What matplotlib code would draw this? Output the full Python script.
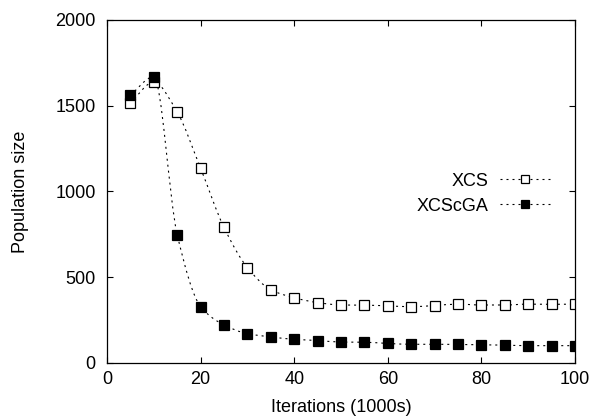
import matplotlib
matplotlib.use('Agg')
import matplotlib.pyplot as plt
from matplotlib.path import Path
from matplotlib.patches import PathPatch
from matplotlib.lines import Line2D

# population size sampled every 5000 iterations
iterations = [5, 10, 15, 20, 25, 30, 35, 40, 45, 50, 55, 60, 65, 70, 75, 80, 85, 90, 95, 100]
xcs_pop = [1515, 1637, 1462, 1135, 790, 556, 427, 380, 352, 338, 337, 333, 328, 335,
           343, 338, 338, 343, 342, 343]
xcscga_pop = [1561, 1668, 748, 329, 222, 171, 152, 138, 131, 122, 121, 114, 109, 109,
              108, 106, 104, 101, 101, 101]

plt.rcParams['font.family'] = ['Liberation Sans', 'DejaVu Sans']

dash = (0, (1.8, 3.6))


def smooth_path(xs, ys):
    """Cubic Bezier path through every point, monotone (PCHIP-style) tangents."""
    n = len(xs)
    h = [xs[i + 1] - xs[i] for i in range(n - 1)]
    d = [(ys[i + 1] - ys[i]) / h[i] for i in range(n - 1)]
    m = [d[0]] + [0.0] * (n - 2) + [d[-1]]
    for i in range(1, n - 1):
        if d[i - 1] * d[i] > 0:
            m[i] = 2 * d[i - 1] * d[i] / (d[i - 1] + d[i])
    verts = [(xs[0], ys[0])]
    codes = [Path.MOVETO]
    for i in range(n - 1):
        verts += [(xs[i] + h[i] / 3, ys[i] + m[i] * h[i] / 3),
                  (xs[i + 1] - h[i] / 3, ys[i + 1] - m[i + 1] * h[i] / 3),
                  (xs[i + 1], ys[i + 1])]
        codes += [Path.CURVE4] * 3
    return Path(verts, codes)


fig = plt.figure(figsize=(5.91, 4.18), dpi=100)
ax = fig.add_axes([0.181, 0.1316, 0.792, 0.821])

series = [
    ('XCS', xcs_pop, 'white'),
    ('XCScGA', xcscga_pop, 'black'),
]
handles = []
for name, values, face in series:
    ax.add_patch(PathPatch(smooth_path(iterations, values), fill=False,
                           edgecolor='black', linewidth=0.8, linestyle=dash))
    ax.plot(iterations, values, linestyle='none', marker='s', markersize=6.8,
            markerfacecolor=face, markeredgecolor='black', markeredgewidth=0.9)
    handles.append(Line2D([], [], color='black', linewidth=0.8, linestyle=dash,
                          marker='s', markersize=5.8, markerfacecolor=face,
                          markeredgecolor='black', markeredgewidth=0.9, label=name))

ax.set_xlim(0, 100)
ax.set_ylim(0, 2000)
ax.set_xticks(range(0, 101, 20))
ax.set_yticks(range(0, 2001, 500))
ax.tick_params(direction='in', top=True, right=True, length=4.5, width=0.8, labelsize=13)
ax.tick_params(axis='y', pad=8)
ax.tick_params(axis='x', pad=6)
ax.set_xlabel('Iterations (1000s)', fontsize=13, labelpad=8)
ax.set_ylabel('Population size', fontsize=13, labelpad=19)
for s in ax.spines.values():
    s.set_linewidth(0.9)

ax.legend(handles=handles, loc='upper right', bbox_to_anchor=(0.947, 0.555),
          frameon=False, markerfirst=False, handlelength=2.8, fontsize=13,
          labelspacing=0.45, handletextpad=0.6, borderaxespad=0, borderpad=0)

fig.savefig('out.png', dpi=100)
